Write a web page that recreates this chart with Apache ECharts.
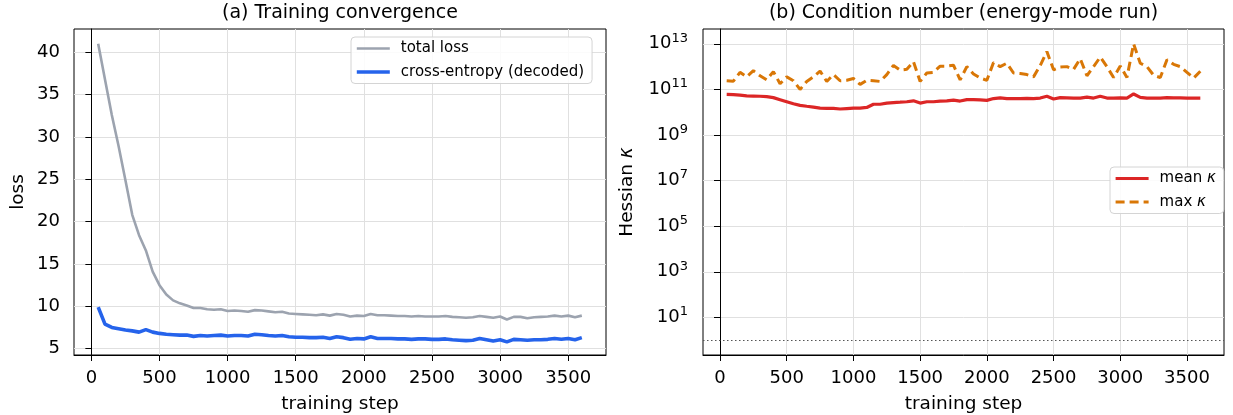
<!DOCTYPE html>
<html><head><meta charset="utf-8">
<script src="https://cdn.jsdelivr.net/npm/echarts@6/dist/echarts.min.js"></script>
<style>html,body{margin:0;padding:0;background:#fff}#c{width:1233px;height:415px}</style>
</head><body><div id="c"></div>
<script>
const steps = [50,100,150,200,250,300,350,400,450,500,550,600,650,700,750,800,850,900,950,1000,
  1050,1100,1150,1200,1250,1300,1350,1400,1450,1500,1550,1600,1650,1700,1750,1800,1850,1900,1950,2000,
  2050,2100,2150,2200,2250,2300,2350,2400,2450,2500,2550,2600,2650,2700,2750,2800,2850,2900,2950,3000,
  3050,3100,3150,3200,3250,3300,3350,3400,3450,3500,3550,3600];
const totalLoss = [41.0,36.8,32.6,28.9,24.9,20.8,18.4,16.6,14.1,12.5,11.4,10.7,10.35,10.1,9.8,9.8,9.65,9.6,9.65,9.45,
  9.5,9.45,9.35,9.55,9.5,9.4,9.3,9.35,9.15,9.1,9.05,9.0,8.95,9.05,8.9,9.1,9.0,8.8,8.9,8.85,
  9.1,8.95,8.95,8.9,8.85,8.85,8.8,8.85,8.8,8.8,8.8,8.85,8.75,8.7,8.65,8.7,8.85,8.75,8.65,8.8,
  8.45,8.75,8.75,8.6,8.7,8.75,8.8,8.9,8.8,8.9,8.7,8.9];
const crossEntropy = [9.9,7.9,7.5,7.35,7.2,7.1,6.95,7.25,6.95,6.8,6.7,6.65,6.6,6.6,6.45,6.55,6.5,6.55,6.6,6.5,
  6.55,6.55,6.5,6.7,6.65,6.55,6.5,6.55,6.4,6.35,6.35,6.3,6.3,6.35,6.2,6.4,6.3,6.1,6.2,6.15,
  6.4,6.2,6.2,6.2,6.15,6.15,6.1,6.15,6.15,6.1,6.1,6.15,6.05,6.0,5.95,6.0,6.2,6.05,5.9,6.05,
  5.8,6.1,6.05,6.0,6.05,6.05,6.1,6.2,6.1,6.2,6.05,6.3];
const meanKappa = [6.03e10,5.89e10,5.62e10,5.25e10,5.13e10,5.01e10,4.79e10,4.37e10,3.55e10,2.88e10,
  2.34e10,2.00e10,1.82e10,1.66e10,1.51e10,1.48e10,1.48e10,1.38e10,1.45e10,1.51e10,
  1.51e10,1.62e10,2.24e10,2.24e10,2.51e10,2.63e10,2.75e10,2.88e10,3.16e10,2.51e10,
  2.88e10,2.88e10,3.09e10,3.16e10,3.39e10,3.09e10,3.55e10,3.55e10,3.47e10,3.31e10,
  3.98e10,4.27e10,3.98e10,3.98e10,3.98e10,4.07e10,3.98e10,4.17e10,5.01e10,3.80e10,
  4.37e10,4.27e10,4.17e10,4.17e10,4.57e10,4.17e10,5.01e10,4.17e10,4.17e10,4.27e10,
  4.17e10,6.31e10,4.47e10,4.17e10,4.17e10,4.17e10,4.37e10,4.27e10,4.27e10,4.17e10,4.17e10,4.17e10];
const maxKappa = [2.40e11,2.29e11,5.62e11,3.55e11,6.61e11,3.98e11,2.63e11,6.03e11,1.78e11,3.55e11,
  2.40e11,1.00e11,2.24e11,3.55e11,6.31e11,2.24e11,4.47e11,2.40e11,2.51e11,3.02e11,
  1.66e11,2.51e11,2.40e11,2.24e11,4.47e11,1.12e12,7.08e11,7.59e11,1.66e12,2.24e11,
  5.25e11,5.62e11,1.05e12,1.05e12,1.15e12,2.63e11,1.00e12,4.79e11,3.16e11,2.51e11,
  1.51e12,1.00e12,1.41e12,5.25e11,5.01e11,4.47e11,3.55e11,1.12e12,4.57e12,7.24e11,
  9.55e11,1.00e12,7.59e11,2.24e12,3.98e11,1.00e12,2.63e12,1.00e12,3.31e11,1.07e12,
  3.31e11,1.00e13,1.41e12,1.00e12,4.17e11,3.31e11,2.00e12,1.26e12,1.00e12,5.62e11,3.16e11,6.31e11];
const xTicks = [0,500,1000,1500,2000,2500,3000,3500];
const lossTicks = [5,10,15,20,25,30,35,40];
const kappaTicks = [1e1,1e3,1e5,1e7,1e9,1e11,1e13];
const kappaRef = 1;

const FONT = 'DejaVu Sans';
const gridColor = '#e0e0e0';
function pair(ys){ return steps.map((s,i)=>[s, ys[i]]); }

function xAxisCfg(idx){
  return {
    type:'value', gridIndex: idx, min:-127.5, max:3777.5,
    name:'training step', nameLocation:'middle', nameGap:40,
    nameTextStyle:{fontFamily:FONT, fontSize:18.5, color:'#000'},
    axisLine:{show:true, onZero:false, lineStyle:{color:'#000', width:1}},
    axisTick:{show:true, length:6, lineStyle:{color:'#000', width:1}, customValues:xTicks},
    axisLabel:{fontFamily:FONT, fontSize:18, color:'#000', margin:14, customValues:xTicks,
      formatter: v => String(v)},
    splitLine:{show:true, lineStyle:{color:gridColor, width:1}}
  };
}
const legendBase = {
  orient:'vertical', itemWidth:33, itemHeight:14, itemGap:8.5, padding:[4,8,4,4],
  borderColor:'#d4d4d4', borderWidth:1, borderRadius:4, backgroundColor:'rgba(255,255,255,0.85)',
  itemStyle:{opacity:0}
};

const chart = echarts.init(document.getElementById('c'), null, {renderer:'canvas'});
chart.setOption({
  animation:false,
  backgroundColor:'#fff',
  title:[
    {text:'(a) Training convergence', left:340, top:4, textAlign:'center', padding:0,
     textStyle:{fontFamily:FONT, fontSize:19, fontWeight:'normal', color:'#000'}},
    {text:'(b) Condition number (energy-mode run)', left:963.5, top:4, textAlign:'center', padding:0,
     textStyle:{fontFamily:FONT, fontSize:19, fontWeight:'normal', color:'#000'}}
  ],
  grid:[
    {left:74, right:627, top:29, bottom:60, show:true, borderColor:'#000', borderWidth:1,
     containLabel:false, outerBoundsMode:'none'},
    {left:703, right:9, top:29, bottom:60, show:true, borderColor:'#000', borderWidth:1,
     containLabel:false, outerBoundsMode:'none'}
  ],
  legend:[
    Object.assign({}, legendBase, {left:351, top:37,
     data:[{name:'total loss', lineStyle:{width:2.6}}, {name:'cross-entropy (decoded)', lineStyle:{width:3.6}}],
     textStyle:{fontFamily:FONT, fontSize:15, color:'#000', padding:[0,0,0,6]}}),
    Object.assign({}, legendBase, {left:1110, top:167,
     data:[{name:'mean κ', lineStyle:{width:3.2}}, {name:'max κ', lineStyle:{width:3}}],
     formatter: n => n.replace('κ','{i|κ}'),
     textStyle:{fontFamily:FONT, fontSize:15, color:'#000', padding:[0,0,0,6],
       rich:{i:{fontFamily:FONT, fontSize:15, fontStyle:'italic', color:'#000'}}}})
  ],
  xAxis:[xAxisCfg(0), xAxisCfg(1)],
  yAxis:[
    {type:'value', gridIndex:0, min:4.25, max:42.75,
     name:'loss', nameLocation:'middle', nameGap:46, nameRotate:90,
     nameTextStyle:{fontFamily:FONT, fontSize:18.5, color:'#000'},
     axisLine:{show:true, lineStyle:{color:'#000', width:1}},
     axisTick:{show:true, length:6, lineStyle:{color:'#000', width:1}, customValues:lossTicks},
     axisLabel:{fontFamily:FONT, fontSize:18, color:'#000', margin:14, customValues:lossTicks},
     splitLine:{show:true, lineStyle:{color:gridColor, width:1}}},
    {type:'log', logBase:10, gridIndex:1, min:0.224, max:4.47e13,
     name:'Hessian {i|κ}', nameLocation:'middle', nameGap:66, nameRotate:90,
     nameTextStyle:{fontFamily:FONT, fontSize:18.5, color:'#000',
       rich:{i:{fontFamily:FONT, fontSize:18.5, fontStyle:'italic', color:'#000'}}},
     axisLine:{show:true, lineStyle:{color:'#000', width:1}},
     axisTick:{show:true, length:6, lineStyle:{color:'#000', width:1}, customValues:kappaTicks},
     axisLabel:{fontFamily:FONT, color:'#000', margin:15, customValues:kappaTicks,
       formatter: v => '{b|10}{s|' + Math.round(Math.log10(v)) + '}',
       rich:{b:{fontFamily:FONT, fontSize:18, lineHeight:24, color:'#000'},
             s:{fontFamily:FONT, fontSize:13, lineHeight:13, verticalAlign:'top', color:'#000'}}},
     splitLine:{show:true, lineStyle:{color:gridColor, width:1}}}
  ],
  series:[
    {name:'total loss', type:'line', xAxisIndex:0, yAxisIndex:0, data:pair(totalLoss),
     symbol:'none', lineStyle:{color:'#9ca3af', width:2.6}, itemStyle:{color:'#9ca3af'}, z:3},
    {name:'cross-entropy (decoded)', type:'line', xAxisIndex:0, yAxisIndex:0, data:pair(crossEntropy),
     symbol:'none', lineStyle:{color:'#2563eb', width:3.6}, itemStyle:{color:'#2563eb'}, z:4},
    {name:'mean κ', type:'line', xAxisIndex:1, yAxisIndex:1, data:pair(meanKappa),
     symbol:'none', lineStyle:{color:'#dc2626', width:3.2}, itemStyle:{color:'#dc2626'}, z:4,
     markLine:{silent:true, symbol:'none', label:{show:false},
       lineStyle:{color:'#555', type:[1.5,2.5], width:1.2}, data:[{yAxis:kappaRef}]}},
    {name:'max κ', type:'line', xAxisIndex:1, yAxisIndex:1, data:pair(maxKappa),
     symbol:'none', lineStyle:{color:'#d97706', width:3, type:[9,5]}, itemStyle:{color:'#d97706'}, z:3}
  ]
});
</script>
</body></html>
